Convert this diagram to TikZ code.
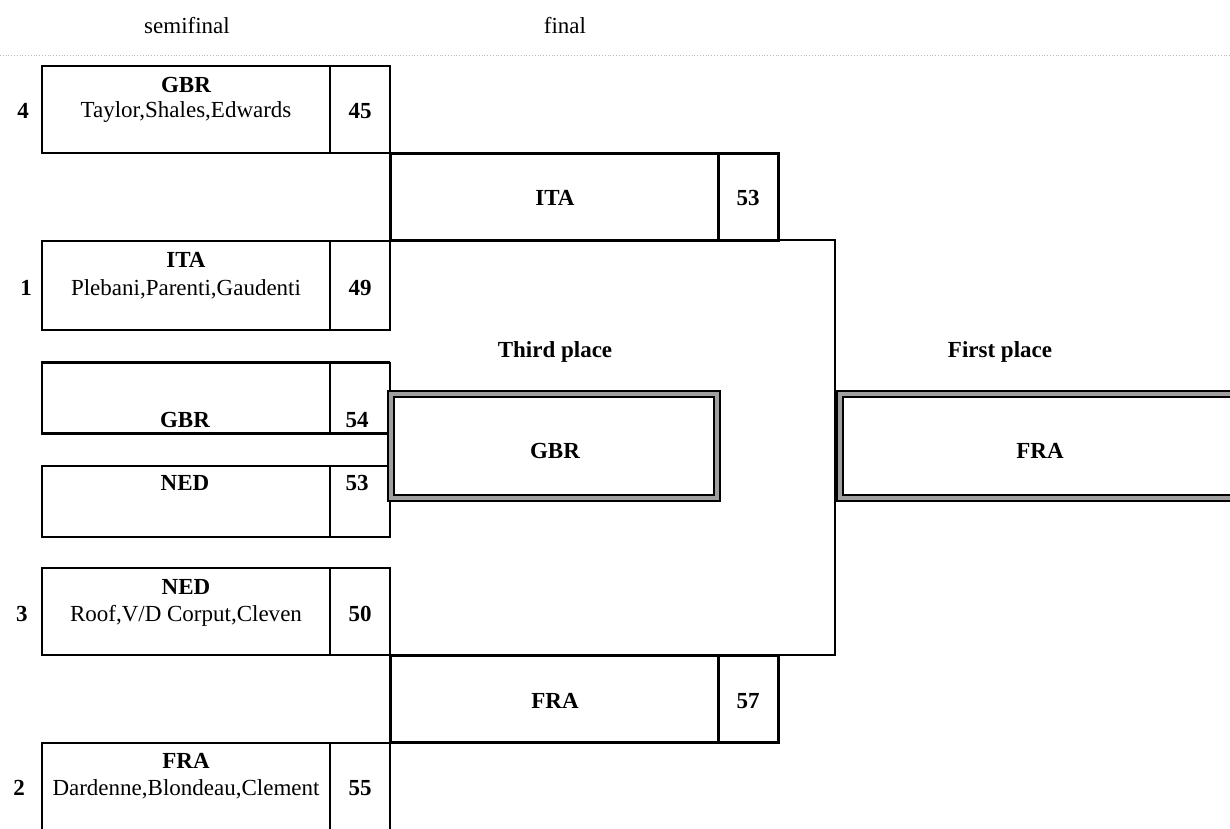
\documentclass[tikz,border=0pt]{standalone}
\usepackage{fontspec}
\setmainfont{Liberation Serif}
\begin{document}
\begin{tikzpicture}[x=1pt,y=-1pt,
  every node/.style={font=\fontsize{23}{26}\selectfont, inner sep=0pt, outer sep=0pt},
  txt/.style={anchor=base},
  bold/.style={anchor=base, font=\fontsize{23}{26}\selectfont\bfseries},
  sbox/.style={draw, line width=1.2pt},
  fbox/.style={draw, line width=3pt},
  lbox/.style={draw, line width=2.6pt},
  pbox/.style={draw=black, line width=1.3pt, double=gray!75, double distance=4.5pt},
  conn/.style={draw, line width=1.2pt}]
\useasboundingbox (0,0) rectangle (1230,828);

% headers
\node[txt] (hsemi) at (187,33) {semifinal};
\node[txt] (hfinal) at (565,33) {final};
\coordinate (dl) at (0,55);
\coordinate (dr) at (1230,55);
\draw[gray!55, line width=0.8pt, dotted] (dl) -- (dr);

% semifinal boxes
\node[sbox, minimum width=288pt, minimum height=87pt] (b4) at (186,109.5) {};
\node[sbox, minimum width=60pt, minimum height=87pt] (b4s) at (360,109.5) {};
\node[bold] (b4t) at (186,92) {GBR};
\node[txt] (b4n) at (186,117) {Taylor,Shales,Edwards};
\node[bold] (b4v) at (360,118) {45};
\node[bold] (b4k) at (23,118) {4};

\node[sbox, minimum width=288pt, minimum height=89pt] (b1) at (186,285.5) {};
\node[sbox, minimum width=60pt, minimum height=89pt] (b1s) at (360,285.5) {};
\node[bold] (b1t) at (186,267) {ITA};
\node[txt] (b1n) at (186,295) {Plebani,Parenti,Gaudenti};
\node[bold] (b1v) at (360,295) {49};
\node[bold] (b1k) at (26,295) {1};

\node[sbox, minimum width=288pt, minimum height=87pt] (b3) at (186,611.5) {};
\node[sbox, minimum width=60pt, minimum height=87pt] (b3s) at (360,611.5) {};
\node[bold] (b3t) at (186,594) {NED};
\node[txt] (b3n) at (186,621) {Roof,V/D Corput,Cleven};
\node[bold] (b3v) at (360,621) {50};
\node[bold] (b3k) at (22,621) {3};

\draw[line width=1.2pt] (42,840) -- (42,743) -- (390,743) -- (390,840);
\draw[line width=1.2pt] (330,743) -- (330,840);
\node (b2) at (186,791) {};
\node[bold] (b2t) at (186,768) {FRA};
\node[txt] (b2n) at (186,795) {Dardenne,Blondeau,Clement};
\node[bold] (b2v) at (360,795) {55};
\node[bold] (b2k) at (19,795) {2};

% third place semifinal losers
\node[lbox, minimum width=288pt, minimum height=71pt] (lg) at (186,398) {};
\node[sbox, minimum width=60pt, minimum height=71pt] (lgs) at (360,398) {};
\draw[line width=2.6pt] (lgs.north west) -- (lgs.north east);
\draw[line width=2.6pt] (lgs.south west) -- (lgs.south east);
\node[bold] (lgt) at (185,427) {GBR};
\node[bold] (lgv) at (357,427) {54};

\node[lbox, minimum width=288pt, minimum height=71pt] (ln) at (186,501.5) {};
\node[sbox, minimum width=60pt, minimum height=71pt] (lns) at (360,501.5) {};
\draw[line width=2.6pt] (lns.north west) -- (lns.north east);
\draw[line width=2.6pt] (lns.south west) -- (lns.south east);
\node[bold] (lnt) at (185,490) {NED};
\node[bold] (lnv) at (357,490) {53};
\draw[conn] (lgs.south east) -- (lns.north east);

% finals
\node[fbox, minimum width=328pt, minimum height=87pt] (fi) at (554,196.5) {};
\node[sbox, minimum width=60pt, minimum height=87pt] (fis) at (748,196.5) {};
\draw[line width=3pt] (fis.north west) -- (fis.north east) -- (fis.south east) -- (fis.south west);
\node[bold] (fit) at (555,205) {ITA};
\node[bold] (fiv) at (748,205) {53};

\node[fbox, minimum width=328pt, minimum height=87pt] (ff) at (554,698.5) {};
\node[sbox, minimum width=60pt, minimum height=87pt] (ffs) at (748,698.5) {};
\draw[line width=3pt] (ffs.north west) -- (ffs.north east) -- (ffs.south east) -- (ffs.south west);
\node[bold] (fft) at (555,708) {FRA};
\node[bold] (ffv) at (748,708) {57};

\coordinate (ct) at (835,240);
\coordinate (cb) at (835,655);
\draw[conn] (fis.south east) -- (ct) -- (cb) -- (ffs.north east);

% places
\node[bold] (tpl) at (555,357) {Third place};
\node[bold] (fpl) at (1000,357) {First place};
\node[pbox, minimum width=326pt, minimum height=104pt] (tp) at (554,446) {};
\node[bold] (tpt) at (555,458) {GBR};
\node[pbox, minimum width=420pt, minimum height=104pt] (fp) at (1050,446) {};
\node[bold] (fpt) at (1040,458) {FRA};
\end{tikzpicture}
\end{document}
